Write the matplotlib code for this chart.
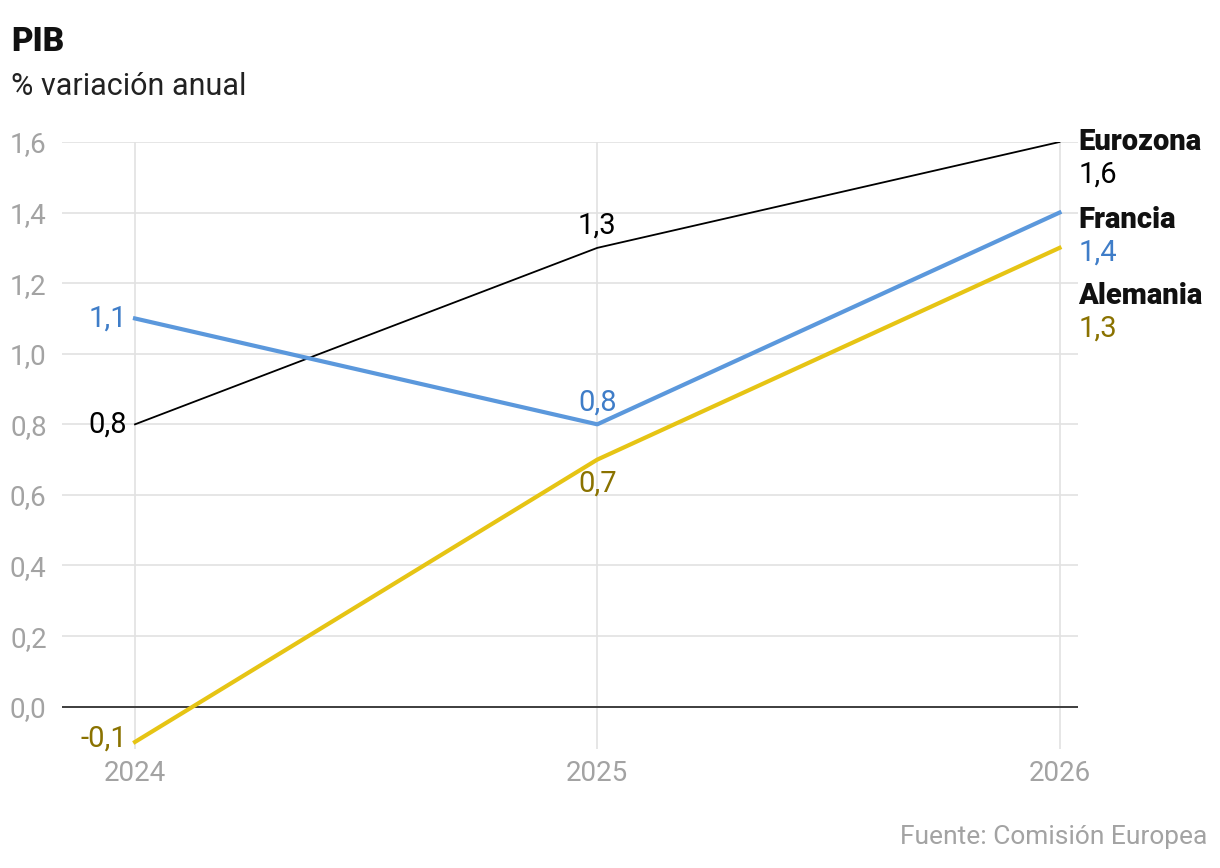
import matplotlib.pyplot as plt

plt.rcParams['font.family'] = ['Roboto', 'DejaVu Sans']

years = [2024, 2025, 2026]
eurozona = [0.8, 1.3, 1.6]
francia = [1.1, 0.8, 1.4]
alemania = [-0.1, 0.7, 1.3]
y_ticks = [0.0, 0.2, 0.4, 0.6, 0.8, 1.0, 1.2, 1.4, 1.6]


def fmt(v):
    return f"{v:.1f}".replace(".", ",")


fig = plt.figure(figsize=(12.2, 8.68), dpi=100)
ax = fig.add_axes([0.0508, 0.1371, 0.8328, 0.6993])

# rejilla
for y in y_ticks:
    ax.axhline(y, color='#e2e2e2', lw=1.2, zorder=0)
for x in years:
    ax.axvline(x, color='#e2e2e2', lw=1.2, zorder=0)
ax.axhline(0, color='#222222', lw=1.2, zorder=1)

ax.plot(years, eurozona, color='black', lw=1.3, zorder=3)
ax.plot(years, francia, color='#5b98dc', lw=3, zorder=3)
ax.plot(years, alemania, color='#e6c414', lw=3, zorder=3)

ax.set_xlim(2023.842, 2026.04)
ax.set_ylim(-0.12, 1.6)
ax.set_yticks(y_ticks)
ax.set_yticklabels([fmt(v) for v in y_ticks])
ax.set_xticks(years)
ax.set_xticklabels([str(y) for y in years])
ax.tick_params(length=0, labelsize=20, colors='#a3a3a3', pad=8)
ax.tick_params(axis='y', pad=11)
for s in ax.spines.values():
    s.set_visible(False)

fs = 21
blue_t = '#3f7dc8'
gold_t = '#8a7200'
# etiquetas 2024
ax.annotate(fmt(eurozona[0]), (years[0], eurozona[0]), xytext=(-8, 0), textcoords='offset pixels',
            ha='right', va='center', fontsize=fs, color='black')
ax.annotate(fmt(francia[0]), (years[0], francia[0]), xytext=(-8, 0), textcoords='offset pixels',
            ha='right', va='center', fontsize=fs, color=blue_t)
ax.annotate(fmt(alemania[0]), (years[0], alemania[0]), xytext=(-8, 3), textcoords='offset pixels',
            ha='right', va='center', fontsize=fs, color=gold_t)
# etiquetas 2025
ax.annotate(fmt(eurozona[1]), (years[1], eurozona[1]), xytext=(0, 8), textcoords='offset pixels',
            ha='center', va='bottom', fontsize=fs, color='black')
ax.annotate(fmt(francia[1]), (years[1], francia[1]), xytext=(0, 8), textcoords='offset pixels',
            ha='center', va='bottom', fontsize=fs, color=blue_t)
ax.annotate(fmt(alemania[1]), (years[1], alemania[1]), xytext=(0, -10), textcoords='offset pixels',
            ha='center', va='top', fontsize=fs, color=gold_t)
# etiquetas 2026 (separadas para que no se solapen)
label_shift = [0, -7, -48]
for name, vals, col, dy in [('Eurozona', eurozona, 'black', label_shift[0]),
                            ('Francia', francia, blue_t, label_shift[1]),
                            ('Alemania', alemania, gold_t, label_shift[2])]:
    ax.annotate(name, (years[2], vals[2]), xytext=(19, dy), textcoords='offset pixels',
                ha='left', va='center', fontsize=fs, fontweight='black', color='#111111', annotation_clip=False)
    ax.annotate(fmt(vals[2]), (years[2], vals[2]), xytext=(19, dy - 33), textcoords='offset pixels',
                ha='left', va='center', fontsize=fs, color=col, annotation_clip=False)

fig.text(0.009, 0.952, 'PIB', fontsize=24, fontweight='black', color='#111111', ha='left', va='center')
fig.text(0.009, 0.90, '% variación anual', fontsize=22, color='#222222', ha='left', va='center')
fig.text(0.99, 0.036, 'Fuente: Comisión Europea', fontsize=19, color='#a3a3a3', ha='right', va='center')

plt.savefig('out.png', dpi=100)
